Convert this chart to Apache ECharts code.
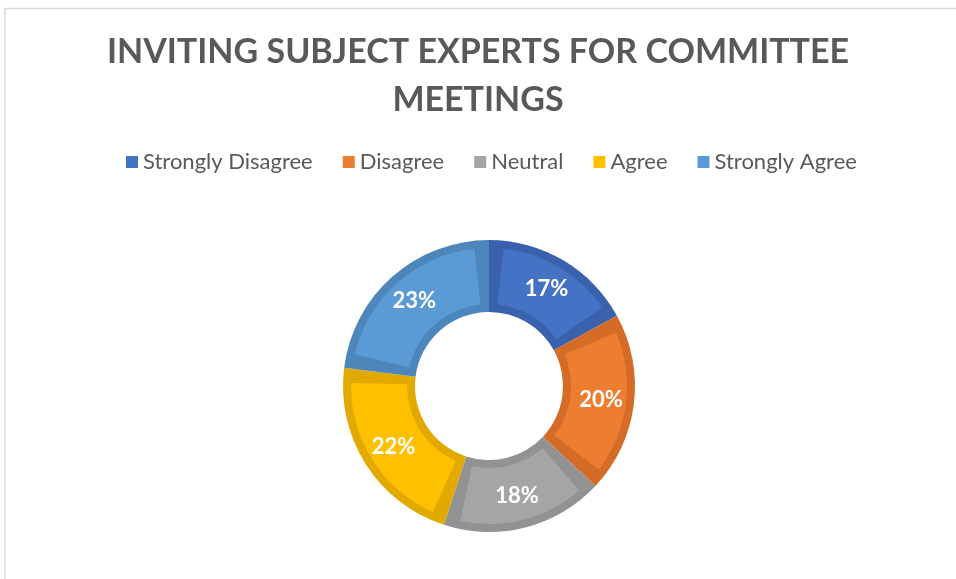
<!DOCTYPE html>
<html>
<head>
<meta charset="utf-8">
<title>Inviting Subject Experts</title>
<script src="https://cdn.jsdelivr.net/npm/echarts@6/dist/echarts.min.js"></script>
<style>
    html, body { margin: 0; padding: 0; background: #fff; }
    #pie { width: 956px; height: 579px; }
</style>
</head>
<body>
<div id="pie"></div>
<script>
// 数据
var categories = ['Strongly Disagree', 'Disagree', 'Neutral', 'Agree', 'Strongly Agree'];
var percents = [17, 20, 18, 22, 23];
var fillColors = ['#4472C4', '#ED7D31', '#A5A5A5', '#FFC000', '#5B9BD5'];
var edgeColors = ['#3A62AC', '#D46C28', '#929292', '#E2AA00', '#4D86BB'];

var fillData = [];
var edgeData = [];
for (var i = 0; i < categories.length; i++) {
    fillData.push({ name: categories[i], value: percents[i], itemStyle: { color: fillColors[i] } });
    edgeData.push({ name: categories[i], value: percents[i], itemStyle: { color: edgeColors[i] } });
}

var myChart = echarts.init(document.getElementById('pie'));

var option = {
    backgroundColor: '#fff',
    animation: false,
    title: {
        text: 'INVITING SUBJECT EXPERTS FOR COMMITTEE\nMEETINGS',
        left: 'center',
        top: 23,
        textStyle: {
            fontFamily: 'Lato',
            fontWeight: 'bold',
            fontSize: 34,
            lineHeight: 48,
            color: '#595959'
        }
    },
    legend: {
        left: 121,
        top: 146,
        itemWidth: 12,
        itemHeight: 12,
        itemGap: 30,
        icon: 'rect',
        textStyle: {
            fontFamily: 'Lato',
            fontSize: 22,
            color: '#595959'
        },
        data: categories
    },
    graphic: [{
        // 外框线
        type: 'polyline',
        shape: { points: [[5, 579], [5, 8.5], [956, 8.5]] },
        style: { stroke: '#D9D9D9', lineWidth: 1.5, fill: null },
        silent: true
    }],
    series: [{
        // 浅色填充
        name: 'fill',
        type: 'pie',
        z: 3,
        center: [489, 386],
        radius: [82, 138],
        startAngle: 90,
        clockwise: true,
        padAngle: 12,
        avoidLabelOverlap: false,
        label: {
            show: true,
            position: 'inside',
            formatter: '{d}%',
            color: '#fff',
            fontFamily: 'Lato',
            fontWeight: 'bold',
            fontSize: 22
        },
        labelLine: { show: false },
        emphasis: { disabled: true },
        data: fillData
    }, {
        // 深色边框环
        name: 'edge',
        type: 'pie',
        z: 2,
        silent: true,
        center: [489, 386],
        radius: [74, 146],
        startAngle: 90,
        clockwise: true,
        label: { show: false },
        labelLine: { show: false },
        emphasis: { disabled: true },
        data: edgeData
    }]
};
myChart.setOption(option);
</script>
</body>
</html>
